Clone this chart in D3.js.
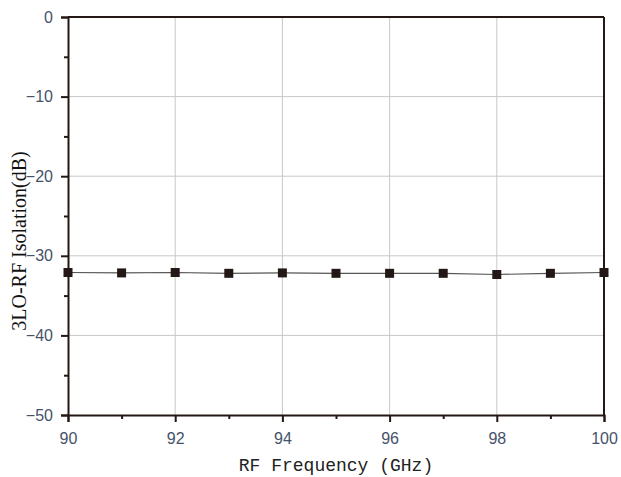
<!DOCTYPE html>
<html>
<head>
<meta charset="utf-8">
<script src="https://cdn.jsdelivr.net/npm/d3@7"></script>
<style>
  body { margin: 0; background: #fff; }
</style>
</head>
<body>
<svg id="chart"></svg>
<script>
const width = 621, height = 477
const margin = { top: 17, right: 17, bottom: 62, left: 68 }

// RF frequency (GHz) and 3LO-RF isolation (dB)
const freqs = [90, 91, 92, 93, 94, 95, 96, 97, 98, 99, 100]
const isolation = [-32.1, -32.15, -32.1, -32.2, -32.15, -32.2, -32.2, -32.2, -32.35, -32.2, -32.1]
const xTicks = [90, 92, 94, 96, 98, 100]
const yTicks = [0, -10, -20, -30, -40, -50]

const axisColor = "#231815"

const svg = d3.select("#chart")
    .attr("width", width)
    .attr("height", height)

const x = d3.scaleLinear().domain([90, 100]).range([margin.left, width - margin.right])
const y = d3.scaleLinear().domain([-50, 0]).range([height - margin.bottom, margin.top])

// grid
svg.append("g")
    .selectAll("line")
    .data(xTicks.slice(1, -1))
    .join("line")
    .attr("x1", d => x(d)).attr("x2", d => x(d))
    .attr("y1", y(0)).attr("y2", y(-50))
    .attr("stroke", "#c8c8c8")
    .attr("stroke-width", 1)

svg.append("g")
    .selectAll("line")
    .data(yTicks.slice(1, -1))
    .join("line")
    .attr("x1", x(90)).attr("x2", x(100))
    .attr("y1", d => y(d)).attr("y2", d => y(d))
    .attr("stroke", "#c8c8c8")
    .attr("stroke-width", 1)

// minor ticks
const minorX = d3.range(91, 100, 2)
const minorY = d3.range(-45, 0, 10)

svg.append("g")
    .attr("transform", `translate(0,${y(-50)})`)
    .call(d3.axisBottom(x).tickValues(xTicks).tickSize(7).tickPadding(11).tickFormat(d3.format("d")))
svg.append("g")
    .attr("transform", `translate(0,${y(-50)})`)
    .call(d3.axisBottom(x).tickValues(minorX).tickSize(4).tickFormat(""))
    .call(g => g.select(".domain").remove())

svg.append("g")
    .attr("transform", `translate(${x(90)},0)`)
    .call(d3.axisLeft(y).tickValues(yTicks).tickSize(7).tickPadding(8).tickFormat(d => d < 0 ? "\u2212" + Math.abs(d) : d))
svg.append("g")
    .attr("transform", `translate(${x(90)},0)`)
    .call(d3.axisLeft(y).tickValues(minorY).tickSize(4).tickFormat(""))
    .call(g => g.select(".domain").remove())

svg.selectAll(".tick line").attr("stroke", axisColor).attr("stroke-width", 2)
svg.selectAll(".domain").attr("stroke", axisColor).attr("stroke-width", 2)
svg.selectAll(".tick text")
    .attr("fill", "#46526a")
    .style("font-family", "'Liberation Sans', Arial, sans-serif")
    .style("font-size", "16px")

// top and right border
svg.append("line")
    .attr("x1", x(90)).attr("x2", x(100))
    .attr("y1", y(0)).attr("y2", y(0))
    .attr("stroke", axisColor).attr("stroke-width", 2)
svg.append("line")
    .attr("x1", x(100)).attr("x2", x(100))
    .attr("y1", y(0)).attr("y2", y(-50))
    .attr("stroke", axisColor).attr("stroke-width", 2)

// series
const pts = freqs.map((f, i) => ({ f, v: isolation[i] }))

svg.append("path")
    .datum(pts)
    .attr("fill", "none")
    .attr("stroke", "#555")
    .attr("stroke-width", 1.2)
    .attr("d", d3.line().x(d => x(d.f)).y(d => y(d.v)))

const s = 9
svg.append("g")
    .selectAll("rect")
    .data(pts)
    .join("rect")
    .attr("x", d => x(d.f) - s / 2)
    .attr("y", d => y(d.v) - s / 2)
    .attr("width", s)
    .attr("height", s)
    .attr("fill", axisColor)

// axis titles
svg.append("text")
    .attr("x", (x(90) + x(100)) / 2)
    .attr("y", 471)
    .attr("text-anchor", "middle")
    .attr("fill", "#222")
    .style("font-family", "'Liberation Mono', monospace")
    .style("font-size", "18px")
    .text("RF Frequency (GHz)")

svg.append("text")
    .attr("transform", `translate(26,241) rotate(-90)`)
    .attr("text-anchor", "middle")
    .attr("fill", "#111")
    .style("font-family", "'Liberation Serif', serif")
    .style("font-size", "20px")
    .text("3LO-RF Isolation(dB)")
</script>
</body>
</html>
